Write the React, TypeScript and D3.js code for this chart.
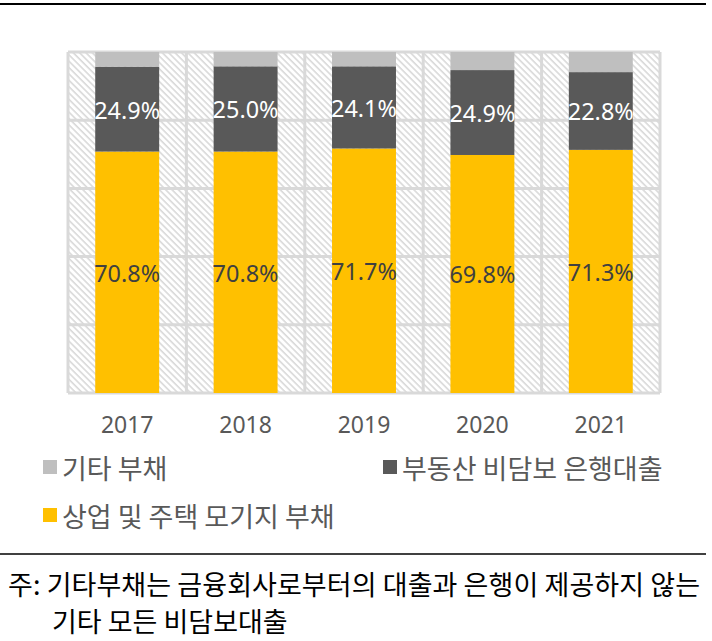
import React, { useEffect, useRef } from "react";
import * as d3 from "d3";

const years = ["2017", "2018", "2019", "2020", "2021"];
const mortgage = [70.8, 70.8, 71.7, 69.8, 71.3];
const unsecuredBank = [24.9, 25.0, 24.1, 24.9, 22.8];
const otherDebt = [4.3, 4.2, 4.2, 5.3, 5.9];
const yTicks = [0, 20, 40, 60, 80, 100];

const seriesNames = ["상업 및 주택 모기지 부채", "부동산 비담보 은행대출", "기타 부채"];
const seriesColors = ["#ffc000", "#595959", "#bfbfbf"];
const labelColors = ["#404040", "#ffffff", null];

const footnoteLines = [
  "주: 기타부채는 금융회사로부터의 대출과 은행이 제공하지 않는",
  "기타 모든 비담보대출",
];

const W = 712;
const H = 641;
const KR_FONT = "'Noto Sans CJK KR', 'Noto Sans', sans-serif";
const NUM_FONT = "'Noto Sans', 'Open Sans', sans-serif";

export default function App() {
  const svgRef = useRef<SVGSVGElement | null>(null);

  useEffect(() => {
    if (!svgRef.current) return;
    const svg = d3.select(svgRef.current);
    svg.selectAll("*").remove();

    const plot = { left: 68, right: 660, top: 52, bottom: 393 };

    const xCat = d3.scaleBand<string>().domain(years).range([plot.left, plot.right]);
    const xBar = d3
      .scaleBand<string>()
      .domain(years)
      .range([plot.left, plot.right])
      .paddingInner(0.46)
      .paddingOuter(0.23);
    const y = d3.scaleLinear().domain([0, 100]).range([plot.bottom, plot.top]);

    // hatch background
    const defs = svg.append("defs");
    const pat = defs
      .append("pattern")
      .attr("id", "hatch")
      .attr("patternUnits", "userSpaceOnUse")
      .attr("width", 4.5)
      .attr("height", 4.5)
      .attr("patternTransform", "rotate(-45)");
    pat.append("rect").attr("width", 4.5).attr("height", 4.5).attr("fill", "#ffffff");
    pat
      .append("line")
      .attr("x1", 1)
      .attr("x2", 1)
      .attr("y1", 0)
      .attr("y2", 4.5)
      .attr("stroke", "#d9d9d9")
      .attr("stroke-width", 1.6);

    // top rule
    svg.append("line")
      .attr("x1", 0).attr("x2", 706).attr("y1", 4).attr("y2", 4)
      .attr("stroke", "#000").attr("stroke-width", 2);

    svg.append("rect")
      .attr("x", plot.left)
      .attr("y", plot.top)
      .attr("width", plot.right - plot.left)
      .attr("height", plot.bottom - plot.top)
      .attr("fill", "url(#hatch)");

    // gridlines
    const grid = svg.append("g").attr("stroke", "#d9d9d9").attr("stroke-width", 3);
    grid.selectAll("line.h")
      .data(yTicks)
      .join("line")
      .attr("class", "h")
      .attr("x1", plot.left)
      .attr("x2", plot.right)
      .attr("y1", (d) => y(d))
      .attr("y2", (d) => y(d));
    const edges = years.map((yr) => xCat(yr) as number).concat([plot.right]);
    grid.selectAll("line.v")
      .data(edges)
      .join("line")
      .attr("class", "v")
      .attr("x1", (d) => d)
      .attr("x2", (d) => d)
      .attr("y1", plot.top)
      .attr("y2", plot.bottom);

    // stacked bars
    const rows = years.map((yr, i) => ({
      year: yr,
      s0: mortgage[i],
      s1: unsecuredBank[i],
      s2: otherDebt[i],
    }));
    const stack = d3.stack<any>().keys(["s0", "s1", "s2"]);
    const layers = stack(rows);

    layers.forEach((layer, li) => {
      const g = svg.append("g");
      g.selectAll("rect")
        .data(layer)
        .join("rect")
        .attr("x", (d: any) => xBar(d.data.year) as number)
        .attr("width", xBar.bandwidth())
        .attr("y", (d) => y(d[1]))
        .attr("height", (d) => y(d[0]) - y(d[1]))
        .attr("fill", seriesColors[li]);

      const lc = labelColors[li];
      if (lc) {
        g.selectAll("text")
          .data(layer)
          .join("text")
          .attr("x", (d: any) => (xBar(d.data.year) as number) + xBar.bandwidth() / 2)
          .attr("y", (d) => (y(d[0]) + y(d[1])) / 2)
          .attr("text-anchor", "middle")
          .attr("dominant-baseline", "central")
          .attr("font-family", NUM_FONT)
          .attr("font-size", 24)
          .attr("fill", lc)
          .attr("textLength", 66)
          .attr("lengthAdjust", "spacingAndGlyphs")
          .text((d) => `${(d[1] - d[0]).toFixed(1)}%`);
      }
    });

    // x labels
    svg.append("g")
      .selectAll("text")
      .data(years)
      .join("text")
      .attr("x", (d) => (xCat(d) as number) + xCat.bandwidth() / 2)
      .attr("y", 424)
      .attr("text-anchor", "middle")
      .attr("dominant-baseline", "central")
      .attr("font-family", NUM_FONT)
      .attr("font-size", 23)
      .attr("fill", "#595959")
      .text((d) => d);

    // legend
    const legendItems = [
      { name: seriesNames[2], color: seriesColors[2], x: 43, y: 467 },
      { name: seriesNames[1], color: seriesColors[1], x: 383, y: 467 },
      { name: seriesNames[0], color: seriesColors[0], x: 43, y: 515 },
    ];
    const lg = svg.append("g").selectAll("g").data(legendItems).join("g")
      .attr("transform", (d) => `translate(${d.x},${d.y})`);
    lg.append("rect").attr("x", 0).attr("y", -7).attr("width", 14).attr("height", 14)
      .attr("fill", (d) => d.color);
    lg.append("text")
      .attr("x", 19)
      .attr("y", 0)
      .attr("dominant-baseline", "central")
      .attr("font-family", KR_FONT)
      .attr("font-size", 27)
      .attr("fill", "#595959")
      .text((d) => d.name);

    // separator + footnote
    svg.append("line")
      .attr("x1", 0).attr("x2", 706).attr("y1", 554).attr("y2", 554)
      .attr("stroke", "#000").attr("stroke-width", 1.5);

    svg.append("text")
      .attr("x", 8).attr("y", 583)
      .attr("dominant-baseline", "central")
      .attr("font-family", KR_FONT)
      .attr("font-size", 27)
      .attr("fill", "#000")
      .attr("textLength", 692)
      .attr("lengthAdjust", "spacing")
      .text(footnoteLines[0]);
    svg.append("text")
      .attr("x", 52).attr("y", 620)
      .attr("dominant-baseline", "central")
      .attr("font-family", KR_FONT)
      .attr("font-size", 27)
      .attr("fill", "#000")
      .text(footnoteLines[1]);
  }, []);

  return (
    <svg
      ref={svgRef}
      width={W}
      height={H}
      style={{ position: "absolute", left: 0, top: 0, background: "#fff" }}
    />
  );
}
